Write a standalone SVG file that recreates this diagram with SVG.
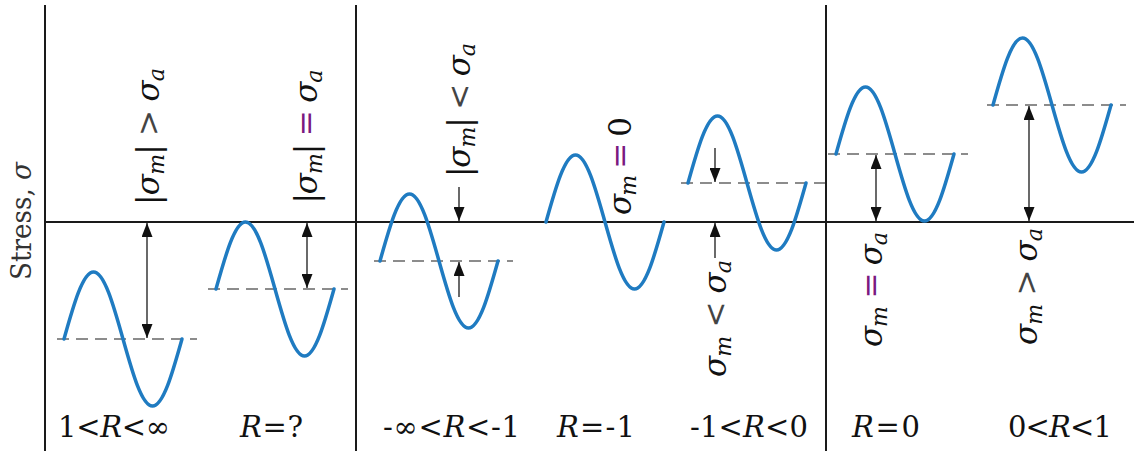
<svg xmlns="http://www.w3.org/2000/svg" xmlns:xlink="http://www.w3.org/1999/xlink" width="1134" height="451" viewBox="0 0 1134 451">
<style>
.ax{stroke:#1a1a1a;stroke-width:2;fill:none}
.wave{stroke:#1f7bc1;stroke-width:3.5;fill:none;stroke-linecap:round}
.mean{stroke:#8c8c8c;stroke-width:2;stroke-dasharray:12 7;fill:none}
.arr{stroke:#1a1a1a;stroke-width:1.3;fill:none}
text{font-family:"DejaVu Serif","Liberation Serif",serif;fill:#111}
.bl{font-size:29px}
.rl{font-size:31px}
.sub{font-size:22px;font-style:italic}
.it{font-style:italic}
.pu{fill:#7a1a80}
.op{fill:#444}
.st{font-size:27px;fill:#333}
</style>
<defs>
<path id="sine" d="M0,0 C9.62,-34.32 18.82,-67 29.5,-67 C40.18,-67 49.38,-34.32 59,0 C68.62,34.32 77.82,67 88.5,67 C99.18,67 108.38,34.32 118,0"/>
<marker id="ah" viewBox="0 0 14 11" refX="14" refY="5.5" markerWidth="14" markerHeight="11" markerUnits="userSpaceOnUse" orient="auto-start-reverse">
<path d="M0,0 L14,5.5 L0,11 z" fill="#111"/>
</marker>
</defs>

<g id="axes">
<line class="ax" x1="45" y1="5" x2="45" y2="451"/>
<line class="ax" x1="356" y1="5" x2="356" y2="451"/>
<line class="ax" x1="826" y1="5" x2="826" y2="451"/>
<line class="ax" x1="45" y1="222" x2="1134" y2="222"/>
<text class="st" text-anchor="middle" textLength="118" lengthAdjust="spacingAndGlyphs" transform="translate(31,221) rotate(-90)">Stress, <tspan class="it">σ</tspan></text>
</g>

<g id="panel1">
<line class="mean" x1="57" y1="339" x2="197" y2="339"/>
<use xlink:href="#sine" class="wave" x="64" y="339"/>
<text class="bl" x="114" y="437" text-anchor="middle" textLength="112" lengthAdjust="spacing">1&lt;<tspan class="it">R</tspan>&lt;∞</text>
<text class="rl" text-anchor="middle" textLength="137" lengthAdjust="spacing" transform="translate(159,136.5) rotate(-90)">|<tspan class="it">σ</tspan><tspan class="sub" dy="5">m</tspan><tspan dy="-5">| </tspan><tspan class="op">&gt;</tspan> <tspan class="it">σ</tspan><tspan class="sub" dy="5">a</tspan></text>
</g>

<g id="panel2">
<line class="mean" x1="208" y1="289" x2="348" y2="289"/>
<use xlink:href="#sine" class="wave" x="216" y="289"/>
<text class="bl" x="271.5" y="437" text-anchor="middle" textLength="63" lengthAdjust="spacing"><tspan class="it">R</tspan>=?</text>
<text class="rl" text-anchor="middle" textLength="134" lengthAdjust="spacing" transform="translate(317,136.5) rotate(-90)">|<tspan class="it">σ</tspan><tspan class="sub" dy="5">m</tspan><tspan dy="-5">| </tspan><tspan class="pu">=</tspan> <tspan class="it">σ</tspan><tspan class="sub" dy="5">a</tspan></text>
</g>

<g id="panel3">
<line class="mean" x1="374" y1="261" x2="513" y2="261"/>
<use xlink:href="#sine" class="wave" x="380" y="261"/>
<text class="bl" x="451.5" y="437" text-anchor="middle" textLength="137" lengthAdjust="spacing">-∞&lt;<tspan class="it">R</tspan>&lt;-1</text>
<text class="rl" text-anchor="middle" textLength="134" lengthAdjust="spacing" transform="translate(470,110) rotate(-90)">|<tspan class="it">σ</tspan><tspan class="sub" dy="5">m</tspan><tspan dy="-5">| </tspan><tspan class="op">&lt;</tspan> <tspan class="it">σ</tspan><tspan class="sub" dy="5">a</tspan></text>
</g>

<g id="panel4">
<use xlink:href="#sine" class="wave" x="546" y="222"/>
<text class="bl" x="596" y="437" text-anchor="middle" textLength="78" lengthAdjust="spacing"><tspan class="it">R</tspan>=-1</text>
<text class="rl" text-anchor="middle" textLength="98" lengthAdjust="spacing" transform="translate(631,166) rotate(-90)"><tspan class="it">σ</tspan><tspan class="sub" dy="5">m</tspan><tspan dy="-5"> </tspan><tspan class="pu">=</tspan> 0</text>
</g>

<g id="panel5">
<line class="mean" x1="681" y1="183" x2="825" y2="183"/>
<use xlink:href="#sine" class="wave" x="688" y="183"/>
<text class="bl" x="749" y="437" text-anchor="middle" textLength="118" lengthAdjust="spacing">-1&lt;<tspan class="it">R</tspan>&lt;0</text>
<text class="rl" text-anchor="middle" textLength="117" lengthAdjust="spacing" transform="translate(726,318.5) rotate(-90)"><tspan class="it">σ</tspan><tspan class="sub" dy="5">m</tspan><tspan dy="-5"> </tspan><tspan class="op">&lt;</tspan> <tspan class="it">σ</tspan><tspan class="sub" dy="5">a</tspan></text>
</g>

<g id="panel6">
<line class="mean" x1="828" y1="154" x2="968" y2="154"/>
<use xlink:href="#sine" class="wave" x="836" y="154"/>
<text class="bl" x="886" y="437" text-anchor="middle" textLength="68" lengthAdjust="spacing"><tspan class="it">R</tspan>=0</text>
<text class="rl" text-anchor="middle" textLength="115" lengthAdjust="spacing" transform="translate(882,289.5) rotate(-90)"><tspan class="it">σ</tspan><tspan class="sub" dy="5">m</tspan><tspan dy="-5"> </tspan><tspan class="pu">=</tspan> <tspan class="it">σ</tspan><tspan class="sub" dy="5">a</tspan></text>
</g>

<g id="panel7">
<line class="mean" x1="987" y1="105" x2="1126" y2="105"/>
<use xlink:href="#sine" class="wave" x="993" y="105"/>
<text class="bl" x="1060" y="437" text-anchor="middle" textLength="104" lengthAdjust="spacing">0&lt;<tspan class="it">R</tspan>&lt;1</text>
<text class="rl" text-anchor="middle" textLength="117" lengthAdjust="spacing" transform="translate(1037,286.5) rotate(-90)"><tspan class="it">σ</tspan><tspan class="sub" dy="5">m</tspan><tspan dy="-5"> </tspan><tspan class="op">&gt;</tspan> <tspan class="it">σ</tspan><tspan class="sub" dy="5">a</tspan></text>
</g>

<g id="connectors">
<line class="arr" x1="147" y1="223" x2="147" y2="338" marker-start="url(#ah)" marker-end="url(#ah)"/>
<line class="arr" x1="307" y1="223" x2="307" y2="288" marker-start="url(#ah)" marker-end="url(#ah)"/>
<line class="arr" x1="459" y1="187" x2="459" y2="221" marker-end="url(#ah)"/>
<line class="arr" x1="459" y1="297" x2="459" y2="262" marker-end="url(#ah)"/>
<line class="arr" x1="715" y1="148" x2="715" y2="182" marker-end="url(#ah)"/>
<line class="arr" x1="715" y1="258" x2="715" y2="223" marker-end="url(#ah)"/>
<line class="arr" x1="876" y1="155" x2="876" y2="221" marker-start="url(#ah)" marker-end="url(#ah)"/>
<line class="arr" x1="1029" y1="106" x2="1029" y2="221" marker-start="url(#ah)" marker-end="url(#ah)"/>
</g>
</svg>
